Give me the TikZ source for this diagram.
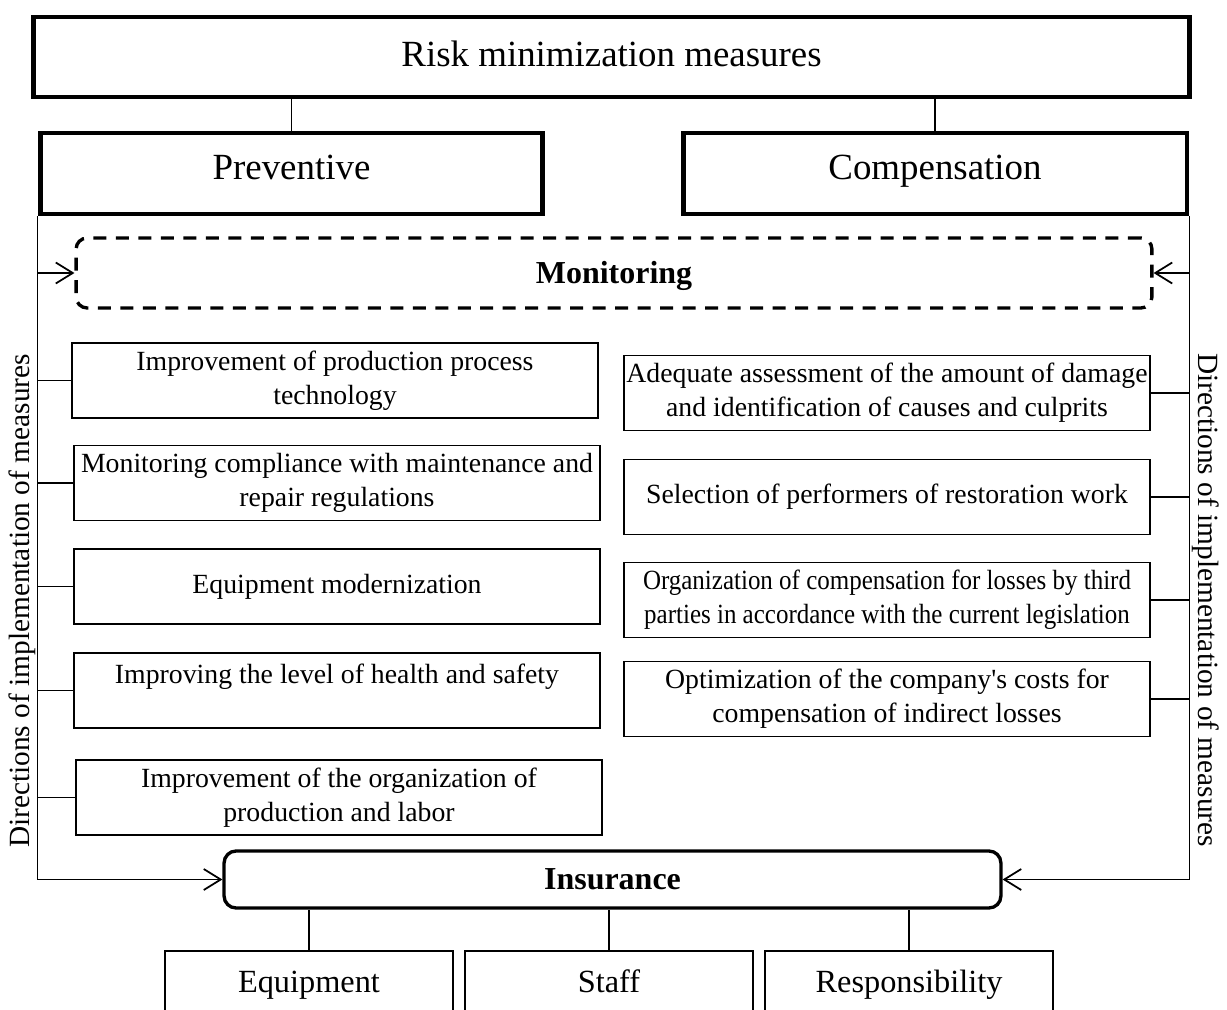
\documentclass[tikz,border=0pt]{standalone}
\usepackage{fontspec}
\setmainfont{Liberation Serif}
\newfontfamily\narrowserif[FakeStretch=0.9]{Liberation Serif}
\usetikzlibrary{arrows.meta}

\begin{document}
\begin{tikzpicture}[x=0.02cm,y=-0.02cm,>={Straight Barb[length=3.4mm,width=4.2mm]},
  head/.style={draw,line width=2.8pt,minimum height=1.6cm,inner sep=0pt,text height=14pt,text depth=6.7pt,font=\fontsize{21}{25}\selectfont},
  item/.style={draw,line width=1.1pt,minimum width=10.52cm,minimum height=1.5cm,inner sep=0pt,align=center,font=\fontsize{15.8}{19.4}\selectfont},
  kind/.style={draw,line width=1.1pt,minimum width=5.76cm,minimum height=1.28cm,inner sep=0pt,anchor=north,text height=13pt,text depth=2pt,font=\fontsize{18.4}{22}\selectfont},
  link/.style={line width=1pt},
  side/.style={font=\fontsize{16.7}{20}\selectfont}]
  \useasboundingbox (0,0) rectangle (1227,1010);
  \clip (0,0) rectangle (1227,1010);
  \node[head,minimum width=23.14cm,text depth=3pt] (top) at (611.5,57) {Risk minimization measures};
  \node[head,minimum width=10.06cm,minimum height=1.62cm] (prev) at (291.5,173.5) {Preventive};
  \node[head,minimum width=10.08cm,minimum height=1.62cm] (comp) at (935,173.5) {Compensation};
  \node[draw,dash pattern=on 7.4pt off 5.4pt,line width=1.9pt,rounded corners=0.22cm,minimum width=21.52cm,minimum height=1.4cm,text height=15.4pt,text depth=4pt,font=\bfseries\fontsize{18.2}{22}\selectfont] (mon) at (614,273) {Monitoring};
  \node[item] (p1) at (335,380.5) {Improvement of production process\\technology};
  \node[item] (p2) at (337,483) {Monitoring compliance with maintenance and\\repair regulations};
  \node[item] (p3) at (337,586.5) {Equipment modernization};
  \node[item] (p4) at (337,690.5) {Improving the level of health and safety\\\mbox{}};
  \node[item] (p5) at (339,797.5) {Improvement of the organization of\\production and labor};
  \node[item] (c1) at (887,393) {Adequate assessment of the amount of damage\\and identification of causes and culprits};
  \node[item] (c2) at (887,497) {Selection of performers of restoration work};
  \node[item,font=\narrowserif\fontsize{15.8}{19.4}\selectfont] (c3) at (887,600) {Organization of compensation for losses by third\\parties in accordance with the current legislation};
  \node[item] (c4) at (887,699) {Optimization of the company\textquotesingle s costs for\\compensation of indirect losses};
  \node[draw,line width=1.9pt,rounded corners=0.24cm,minimum width=15.54cm,minimum height=1.14cm,font=\bfseries\fontsize{18.2}{22}\selectfont] (ins) at (612.5,879.5) {Insurance};
  \node[kind] (s1) at (309,950) {Equipment};
  \node[kind] (s2) at (609,950) {Staff};
  \node[kind] (s3) at (909,950) {Responsibility};
  \node[side,rotate=90] (lt) at (22,601) {Directions of implementation of measures};
  \node[side,rotate=-90] (rt) at (1206,600) {Directions of implementation of measures};
  \draw[link] (prev.north) -- (prev.north |- top.south);
  \draw[link] (comp.north) -- (comp.north |- top.south);
  \draw[link,->] (prev.south west) |- (ins.west);
  \draw[link,->] (comp.south east) |- (ins.east);
  \draw[link,->] (prev.south west |- mon.west) -- (mon.west);
  \draw[link,->] (comp.south east |- mon.east) -- (mon.east);
  \foreach \n in {p1,p2,p3,p4,p5}
    \draw[link] (\n.west) -- (\n.west -| prev.south west);
  \foreach \n in {c1,c2,c3,c4}
    \draw[link] (\n.east) -- (\n.east -| comp.south east);
  \foreach \n in {s1,s2,s3}
    \draw[link] (\n.north) -- (\n.north |- ins.south);
\end{tikzpicture}
\end{document}
